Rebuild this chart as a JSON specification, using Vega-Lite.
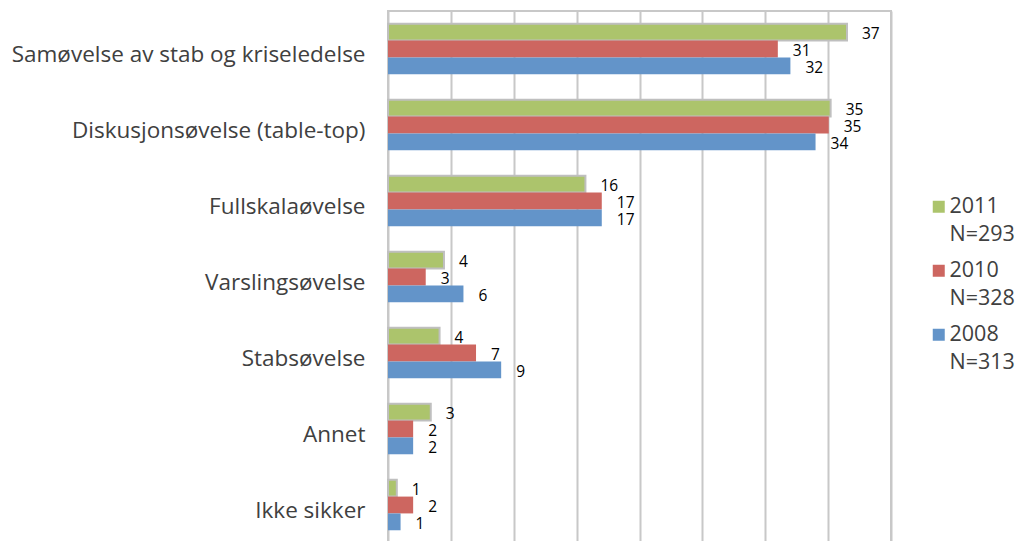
{
  "$schema": "https://vega.github.io/schema/vega-lite/v6.json",
  "width": 503,
  "height": 532,
  "autosize": {"type": "none"},
  "padding": {"left": 388, "top": 11, "right": 128, "bottom": -2},
  "background": "white",
  "config": {
    "font": "Open Sans",
    "view": {"stroke": "#c8c8c8", "strokeWidth": 2},
    "style": {"guide-label": {"lineHeight": 28, "dy": 6}}
  },
  "data": {
    "values": [
      {"category": "Samøvelse av stab og kriseledelse", "series": "2011|N=293", "value": 36.5},
      {"category": "Samøvelse av stab og kriseledelse", "series": "2010|N=328", "value": 31.0},
      {"category": "Samøvelse av stab og kriseledelse", "series": "2008|N=313", "value": 32.0},
      {"category": "Diskusjonsøvelse (table-top)", "series": "2011|N=293", "value": 35.2},
      {"category": "Diskusjonsøvelse (table-top)", "series": "2010|N=328", "value": 35.05},
      {"category": "Diskusjonsøvelse (table-top)", "series": "2008|N=313", "value": 34.0},
      {"category": "Fullskalaøvelse", "series": "2011|N=293", "value": 15.7},
      {"category": "Fullskalaøvelse", "series": "2010|N=328", "value": 17.0},
      {"category": "Fullskalaøvelse", "series": "2008|N=313", "value": 17.0},
      {"category": "Varslingsøvelse", "series": "2011|N=293", "value": 4.45},
      {"category": "Varslingsøvelse", "series": "2010|N=328", "value": 3.0},
      {"category": "Varslingsøvelse", "series": "2008|N=313", "value": 6.0},
      {"category": "Stabsøvelse", "series": "2011|N=293", "value": 4.1},
      {"category": "Stabsøvelse", "series": "2010|N=328", "value": 7.0},
      {"category": "Stabsøvelse", "series": "2008|N=313", "value": 9.0},
      {"category": "Annet", "series": "2011|N=293", "value": 3.4},
      {"category": "Annet", "series": "2010|N=328", "value": 2.0},
      {"category": "Annet", "series": "2008|N=313", "value": 2.0},
      {"category": "Ikke sikker", "series": "2011|N=293", "value": 0.7},
      {"category": "Ikke sikker", "series": "2010|N=328", "value": 2.0},
      {"category": "Ikke sikker", "series": "2008|N=313", "value": 1.0}
    ]
  },
  "encoding": {
    "y": {
      "field": "category",
      "type": "nominal",
      "sort": null,
      "scale": {"paddingInner": 0.335, "paddingOuter": 0.1675},
      "axis": {
        "title": null,
        "ticks": false,
        "domain": false,
        "labelFont": "Open Sans",
        "labelFontSize": 22.5,
        "labelColor": "#404040",
        "labelPadding": 23,
        "labelLimit": 500
      }
    },
    "yOffset": {
      "field": "series",
      "type": "nominal",
      "sort": ["2011|N=293", "2010|N=328", "2008|N=313"],
      "scale": {"paddingInner": 0, "paddingOuter": 0}
    },
    "x": {
      "field": "value",
      "type": "quantitative",
      "scale": {"domain": [0, 40], "nice": false, "zero": true},
      "axis": {
        "title": null,
        "labels": false,
        "ticks": false,
        "domain": false,
        "grid": true,
        "gridColor": "#c8c8c8",
        "gridWidth": 2,
        "values": [0, 5, 10, 15, 20, 25, 30, 35, 40]
      }
    }
  },
  "layer": [
    {
      "mark": {"type": "bar", "strokeWidth": 2},
      "encoding": {
        "color": {
          "field": "series",
          "type": "nominal",
          "sort": ["2011|N=293", "2010|N=328", "2008|N=313"],
          "scale": {
            "domain": ["2011|N=293", "2010|N=328", "2008|N=313"],
            "range": ["#acc46c", "#cd6660", "#6394c9"]
          },
          "legend": {
            "title": null,
            "orient": "none",
            "legendX": 540,
            "legendY": 185,
            "symbolType": "square",
            "symbolSize": 144,
            "symbolStrokeWidth": 0,
            "labelExpr": "split(datum.label, '|')",
            "labelFont": "Open Sans",
            "labelFontSize": 21.5,
            "labelColor": "#404040",
            "labelOffset": 0,
            "labelBaseline": "alphabetic",
            "labelLimit": 200,
            "rowPadding": 13
          }
        },
        "stroke": {
          "condition": {"test": "datum.series === '2011|N=293'", "value": "#bfbfbf"},
          "value": null
        }
      }
    },
    {
      "mark": {
        "type": "text",
        "align": "left",
        "baseline": "middle",
        "dx": 15,
        "dy": 2,
        "font": "Open Sans",
        "fontSize": 15.5,
        "color": "#000000"
      },
      "encoding": {
        "text": {"field": "value", "type": "quantitative", "format": ".0f"}
      }
    }
  ]
}
